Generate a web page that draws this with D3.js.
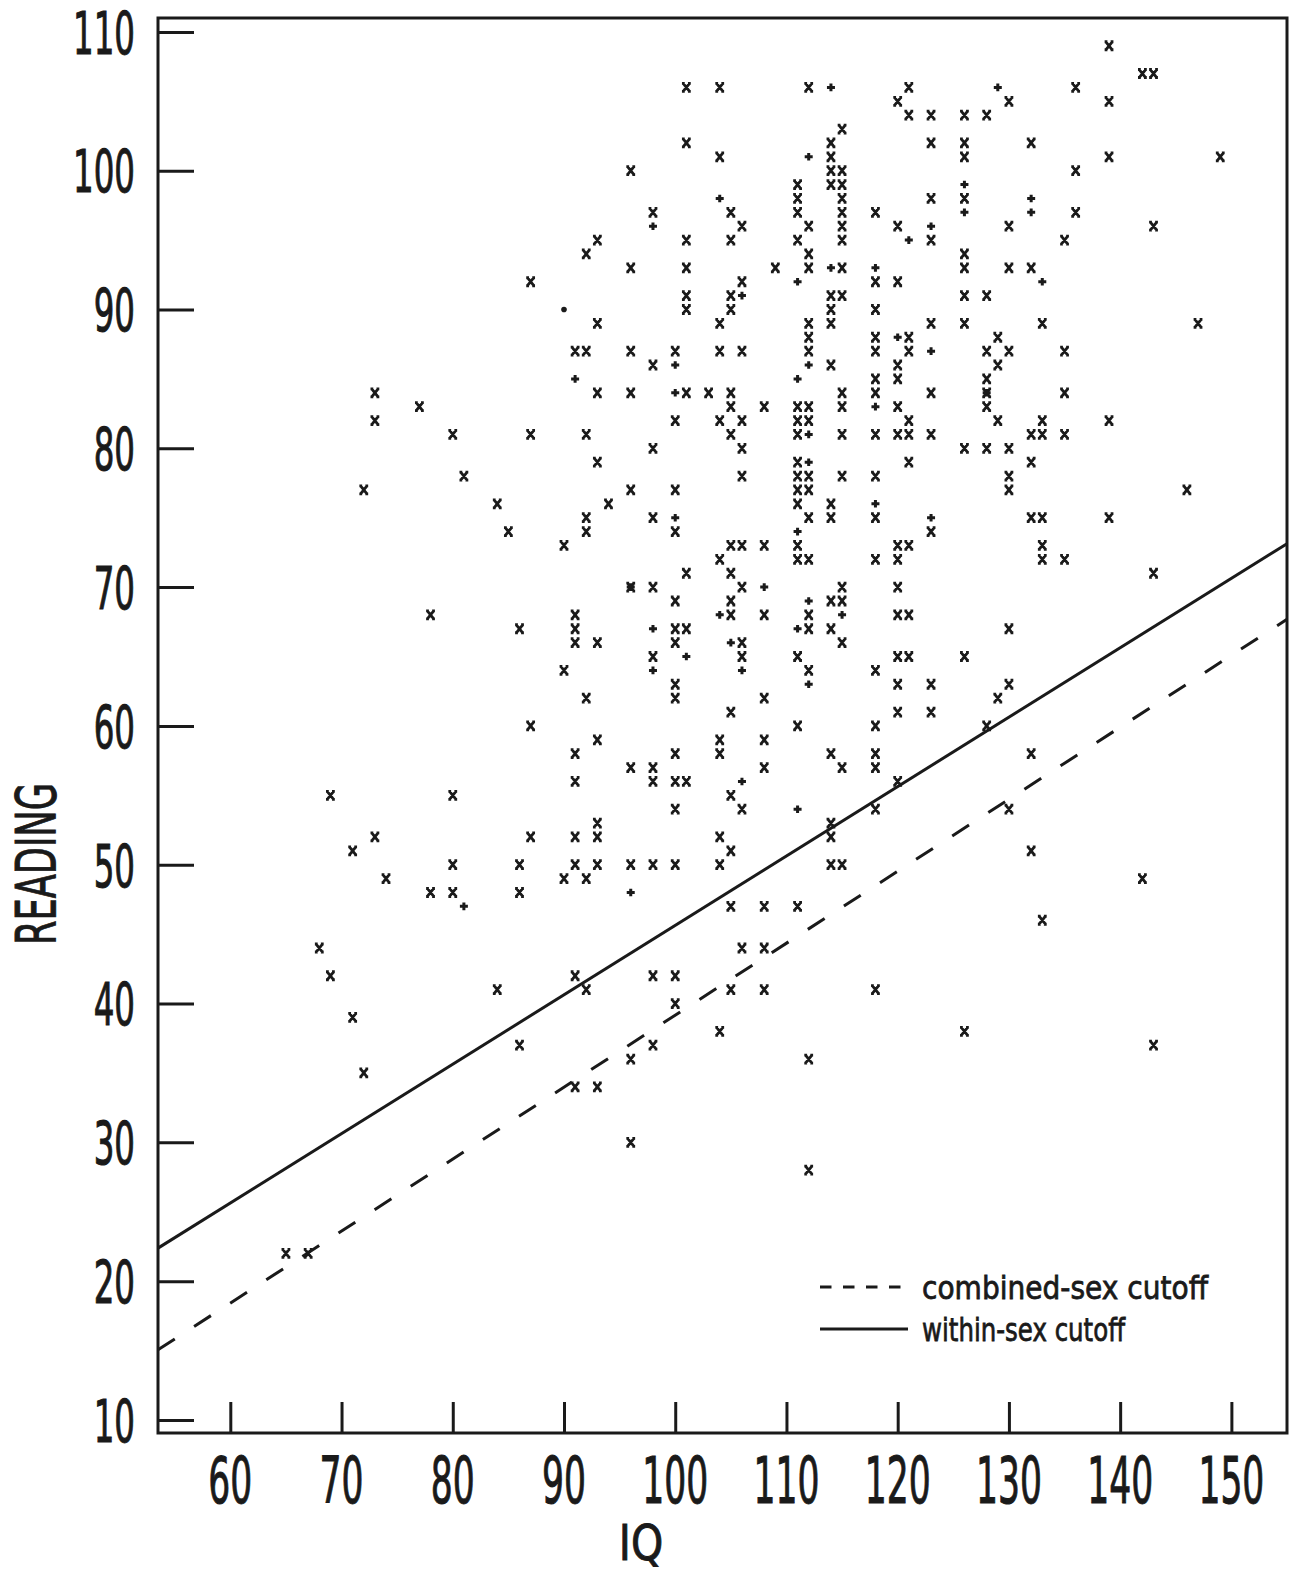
<!DOCTYPE html>
<html>
<head>
<meta charset="utf-8">
<script src="https://cdn.jsdelivr.net/npm/d3@7/dist/d3.min.js"></script>
<style>
  body { margin: 0; background: #fff; }
  text { font-family: "DejaVu Sans", sans-serif; fill: #1a1a1a; }
</style>
</head>
<body>
<svg id="chart" width="1290" height="1573"></svg>
<script>
// axis ticks
const xTicks = [60, 70, 80, 90, 100, 110, 120, 130, 140, 150];
const yTicks = [10, 20, 30, 40, 50, 60, 70, 80, 90, 100, 110];

// cases marked "x"  [IQ, reading]
const xMarks = [
  [93,95],[92,94],[87,92],[93,89],[91,87],[92,87],[93,84],[73,84],[77,83],[73,82],[80,81],[87,81],
  [92,81],[93,79],[81,78],[72,77],[84,76],[94,76],[92,75],[85,74],[92,74],[90,73],
  [101,106],[104,106],[112,106],[120,105],[115,103],[101,102],[114,102],[104,101],[114,101],
  [96,100],[114,100],[115,100],[111,99],[114,99],[115,99],[111,98],[115,98],
  [98,97],[105,97],[111,97],[115,97],[118,97],[106,96],[112,96],[115,96],[120,96],
  [101,95],[105,95],[111,95],[115,95],[112,94],[96,93],[101,93],[109,93],[112,93],[115,93],
  [106,92],[118,92],[120,92],[101,91],[105,91],[114,91],[115,91],[101,90],[105,90],[114,90],[118,90],
  [104,89],[112,89],[114,89],[112,88],[118,88],[96,87],[100,87],[104,87],[106,87],[112,87],[118,87],
  [98,86],[114,86],[120,86],[118,85],[120,85],[96,84],[101,84],[103,84],[105,84],[115,84],[118,84],
  [105,83],[108,83],[111,83],[112,83],[115,83],[120,83],[100,82],[104,82],[106,82],[111,82],[112,82],
  [105,81],[111,81],[115,81],[118,81],[120,81],[98,80],[106,80],[111,79],
  [106,78],[111,78],[112,78],[115,78],[118,78],[96,77],[100,77],[111,77],[112,77],[111,76],[114,76],
  [98,75],[112,75],[114,75],[118,75],[100,74],[105,73],[106,73],[108,73],[111,73],[120,73],
  [104,72],[111,72],[112,72],[118,72],[120,72],[101,71],[105,71],[96,70],[98,70],[106,70],[115,70],[120,70],
  [139,109],[142,107],[143,107],[121,106],[136,106],[130,105],[139,105],
  [121,104],[123,104],[126,104],[128,104],[123,102],[126,102],[132,102],[126,101],[139,101],[149,101],
  [136,100],[123,98],[126,98],[136,97],[130,96],[143,96],[123,95],[135,95],[126,94],
  [126,93],[130,93],[132,93],[126,91],[128,91],[123,89],[126,89],[133,89],[147,89],[121,88],[129,88],
  [121,87],[128,87],[130,87],[135,87],[129,86],[128,85],[123,84],[128,84],[135,84],[128,83],
  [121,82],[129,82],[133,82],[139,82],[121,81],[123,81],[132,81],[133,81],[135,81],
  [126,80],[128,80],[130,80],[121,79],[132,79],[130,78],[130,77],[146,77],
  [132,75],[133,75],[139,75],[123,74],[121,73],[133,73],[133,72],[135,72],[143,71],
  [78,68],[91,68],[86,67],[91,67],[91,66],[93,66],[90,64],[92,62],[87,60],[93,59],[91,58],[91,56],
  [69,55],[80,55],[93,53],[73,52],[87,52],[91,52],[93,52],[71,51],[80,50],[86,50],[91,50],[93,50],
  [74,49],[90,49],[92,49],[78,48],[80,48],[86,48],[68,44],[69,42],[91,42],[84,41],[92,41],[71,39],
  [86,37],[72,35],[91,34],[93,34],
  [100,69],[105,69],[114,69],[115,69],[105,68],[108,68],[112,68],[120,68],[100,67],[101,67],[112,67],[114,67],
  [100,66],[106,66],[115,66],[98,65],[106,65],[111,65],[120,65],[112,64],[118,64],[100,63],[120,63],
  [100,62],[108,62],[105,61],[120,61],[111,60],[118,60],[104,59],[108,59],[100,58],[104,58],[114,58],[118,58],
  [96,57],[98,57],[108,57],[115,57],[118,57],[98,56],[100,56],[101,56],[120,56],[105,55],
  [100,54],[106,54],[118,54],[114,53],[104,52],[114,52],[105,51],
  [96,50],[98,50],[100,50],[104,50],[114,50],[115,50],[105,47],[108,47],[111,47],[106,44],[108,44],
  [98,42],[100,42],[105,41],[108,41],[118,41],[100,40],[104,38],[98,37],[96,36],[112,36],[96,30],[112,28],
  [121,68],[130,67],[121,65],[126,65],[123,63],[130,63],[129,62],[123,61],[128,60],[132,58],[130,54],
  [132,51],[142,49],[133,46],[126,38],[143,37],
  [65,22],[67,22]
];

// cases marked "+"  [IQ, reading]
const plusMarks = [
  [91,85],[114,106],[112,101],[104,98],[98,96],[114,93],[118,93],[111,92],[106,91],[120,88],
  [100,86],[112,86],[111,85],[100,84],[118,83],[112,81],[112,79],[118,76],[100,75],[111,74],
  [96,70],[108,70],[129,106],[126,99],[132,98],[126,97],[132,97],[123,96],[121,95],[133,92],
  [123,87],[128,84],[123,75],[81,47],
  [112,69],[104,68],[115,68],[98,67],[111,67],[105,66],[101,65],[98,64],[106,64],[112,63],
  [106,56],[111,54],[96,48]
];

const dotMarks = [[90, 90]];

// cutoff lines, end points on the frame
const withinSex = [[53.5, 22.38], [155, 73.13]];
const combinedSex = [[53.5, 15.05], [155, 67.68]];

const legendItems = [
  { label: 'combined-sex cutoff', dash: '11.5,11.5', len: 286 },
  { label: 'within-sex cutoff', dash: null, len: 203 }
];

const svg = d3.select('#chart');
const x = d3.scaleLinear().domain([53.5, 155]).range([158, 1287]);
const y = d3.scaleLinear().domain([9.06, 111]).range([1433, 18]);

// frame
svg.append('rect')
  .attr('x', x(53.5)).attr('y', y(111))
  .attr('width', x(155) - x(53.5)).attr('height', y(9.06) - y(111))
  .attr('fill', 'none').attr('stroke', '#1a1a1a').attr('stroke-width', 3);

// ticks
const xAxis = svg.append('g')
  .attr('transform', `translate(0,${y(9.06)})`)
  .call(d3.axisBottom(x).tickValues(xTicks).tickSizeInner(-31).tickSizeOuter(0).tickFormat(''));
const yAxis = svg.append('g')
  .attr('transform', `translate(${x(53.5)},0)`)
  .call(d3.axisLeft(y).tickValues(yTicks).tickSizeInner(-36).tickSizeOuter(0).tickFormat(''));
[xAxis, yAxis].forEach(g => {
  g.select('.domain').remove();
  g.selectAll('.tick line').attr('stroke', '#1a1a1a').attr('stroke-width', 3);
});

// tick labels
svg.append('g').selectAll('text')
  .data(xTicks)
  .join('text')
  .attr('transform', d => `translate(${x(d)},1503) scale(0.54,1)`)
  .attr('text-anchor', 'middle')
  .attr('font-size', 64)
  .attr('stroke', '#1a1a1a').attr('stroke-width', 1.1)
  .text(d => d);

svg.append('g').selectAll('text')
  .data(yTicks)
  .join('text')
  .attr('transform', d => `translate(135,${y(d) + 21.8}) scale(0.56,1)`)
  .attr('text-anchor', 'end')
  .attr('font-size', 58)
  .attr('stroke', '#1a1a1a').attr('stroke-width', 1.1)
  .text(d => d);

// axis titles
svg.append('text')
  .attr('transform', 'translate(641,1560) scale(0.82,1)')
  .attr('text-anchor', 'middle')
  .attr('font-size', 50)
  .attr('stroke', '#1a1a1a').attr('stroke-width', 1)
  .text('IQ');

svg.append('text')
  .attr('transform', 'translate(55,864) rotate(-90) scale(0.64,1)')
  .attr('text-anchor', 'middle')
  .attr('font-size', 55)
  .attr('stroke', '#1a1a1a').attr('stroke-width', 1)
  .text('READING');

// cutoff lines
const line = d3.line().x(d => x(d[0])).y(d => y(d[1]));
svg.append('path').datum(withinSex)
  .attr('d', line).attr('fill', 'none')
  .attr('stroke', '#1a1a1a').attr('stroke-width', 3);
svg.append('path').datum(combinedSex)
  .attr('d', line).attr('fill', 'none')
  .attr('stroke', '#1a1a1a').attr('stroke-width', 3)
  .attr('stroke-dasharray', '20,23');

// markers
const xShape = 'M-3.2,-4L3.2,4M3.2,-4L-3.2,4M-4.4,-4H-1.6M1.6,-4H4.4M-4.4,4H-1.6M1.6,4H4.4';
const plusShape = 'M-4,0H4M0,-3.8V3.8';

svg.append('g').selectAll('path')
  .data(xMarks)
  .join('path')
  .attr('transform', d => `translate(${x(d[0])},${y(d[1])})`)
  .attr('d', xShape)
  .attr('fill', 'none').attr('stroke', '#1a1a1a').attr('stroke-width', 2.8);

svg.append('g').selectAll('path')
  .data(plusMarks)
  .join('path')
  .attr('transform', d => `translate(${x(d[0])},${y(d[1])})`)
  .attr('d', plusShape)
  .attr('fill', 'none').attr('stroke', '#1a1a1a').attr('stroke-width', 3);

svg.append('g').selectAll('circle')
  .data(dotMarks)
  .join('circle')
  .attr('cx', d => x(d[0])).attr('cy', d => y(d[1]))
  .attr('r', 2.8).attr('fill', '#1a1a1a');

// legend
const legend = svg.append('g').attr('transform', 'translate(820,1287)');
const rows = legend.selectAll('g')
  .data(legendItems)
  .join('g')
  .attr('transform', (d, i) => `translate(0,${i * 42})`);
rows.append('line')
  .attr('x1', 0).attr('x2', 88)
  .attr('stroke', '#1a1a1a').attr('stroke-width', 2.8)
  .attr('stroke-dasharray', d => d.dash);
rows.append('text')
  .attr('x', 102).attr('y', 12)
  .attr('font-size', 32)
  .attr('textLength', d => d.len)
  .attr('lengthAdjust', 'spacingAndGlyphs')
  .attr('stroke', '#1a1a1a').attr('stroke-width', 0.8)
  .text(d => d.label);
</script>
</body>
</html>
